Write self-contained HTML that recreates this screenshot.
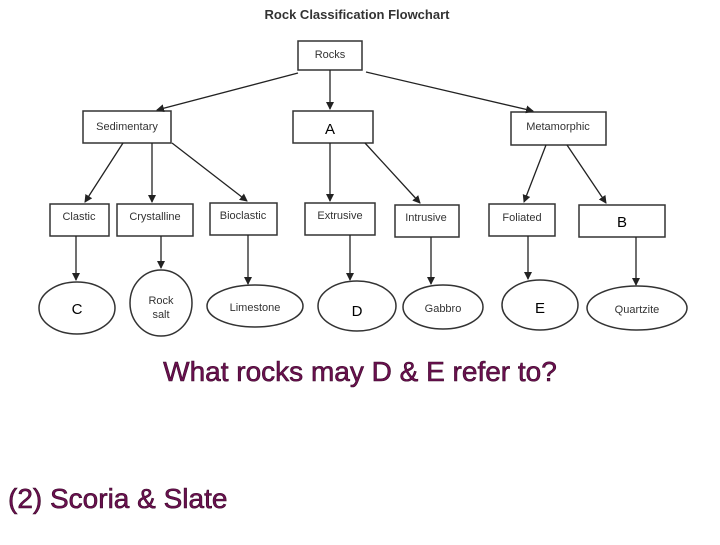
<!DOCTYPE html>
<html><head><style>
body{margin:0;width:720px;height:540px;background:#fff;overflow:hidden}
svg text{font-family:"Liberation Sans",sans-serif}
</style></head><body>
<svg width="720" height="540" viewBox="0 0 720 540" xmlns="http://www.w3.org/2000/svg">
<defs><marker id="a" markerWidth="8" markerHeight="8" refX="7" refY="4" orient="auto" markerUnits="userSpaceOnUse"><path d="M0,0 L8,4 L0,8 z" fill="#222"/></marker></defs>
<text x="357" y="19" font-size="13" font-weight="bold" text-anchor="middle" fill="#333">Rock Classification Flowchart</text>
<g fill="#fff" stroke="#333" stroke-width="1.5">
<rect x="298" y="41" width="64" height="29"/>
<rect x="83" y="111" width="88" height="32"/>
<rect x="293" y="111" width="80" height="32"/>
<rect x="511" y="112" width="95" height="33"/>
<rect x="50" y="204" width="59" height="32"/>
<rect x="117" y="204" width="76" height="32"/>
<rect x="210" y="203" width="67" height="32"/>
<rect x="305" y="203" width="70" height="32"/>
<rect x="395" y="205" width="64" height="32"/>
<rect x="489" y="204" width="66" height="32"/>
<rect x="579" y="205" width="86" height="32"/>
<ellipse cx="77" cy="308" rx="38" ry="26"/>
<ellipse cx="161" cy="303" rx="31" ry="33"/>
<ellipse cx="255" cy="306" rx="48" ry="21"/>
<ellipse cx="357" cy="306" rx="39" ry="25"/>
<ellipse cx="443" cy="307" rx="40" ry="22"/>
<ellipse cx="540" cy="305" rx="38" ry="25"/>
<ellipse cx="637" cy="308" rx="50" ry="22"/>
</g>
<g stroke="#222" stroke-width="1.3" marker-end="url(#a)">
<line x1="298" y1="73" x2="157" y2="110"/>
<line x1="330" y1="70" x2="330" y2="109"/>
<line x1="366" y1="72" x2="533" y2="111"/>
<line x1="123" y1="143" x2="85" y2="202"/>
<line x1="152" y1="143" x2="152" y2="202"/>
<line x1="172" y1="143" x2="247" y2="201"/>
<line x1="330" y1="143" x2="330" y2="201"/>
<line x1="365" y1="143" x2="420" y2="203"/>
<line x1="546" y1="145" x2="524" y2="202"/>
<line x1="567" y1="145" x2="606" y2="203"/>
<line x1="76" y1="236" x2="76" y2="280"/>
<line x1="161" y1="236" x2="161" y2="268"/>
<line x1="248" y1="235" x2="248" y2="284"/>
<line x1="350" y1="235" x2="350" y2="280"/>
<line x1="431" y1="237" x2="431" y2="284"/>
<line x1="528" y1="236" x2="528" y2="279"/>
<line x1="636" y1="237" x2="636" y2="285"/>
</g>
<g font-size="11" text-anchor="middle" fill="#333">
<text x="330" y="58">Rocks</text>
<text x="127" y="130">Sedimentary</text>
<text x="558" y="130">Metamorphic</text>
<text x="79" y="220">Clastic</text>
<text x="155" y="220">Crystalline</text>
<text x="243" y="219">Bioclastic</text>
<text x="340" y="219">Extrusive</text>
<text x="426" y="221">Intrusive</text>
<text x="522" y="221">Foliated</text>
<text x="161" y="304">Rock</text>
<text x="161" y="318">salt</text>
<text x="255" y="311">Limestone</text>
<text x="443" y="312">Gabbro</text>
<text x="637" y="313">Quartzite</text>
</g>
<g font-size="15" text-anchor="middle" fill="#000">
<text x="330" y="134">A</text>
<text x="622" y="227">B</text>
<text x="77" y="314">C</text>
<text x="357" y="316">D</text>
<text x="540" y="313">E</text>
</g>
<g font-size="28" fill="#6b1050" stroke="#3a0828" stroke-width="0.6">
<text x="360" y="381" text-anchor="middle">What rocks may D &amp; E refer to?</text>
<text x="8" y="508">(2) Scoria &amp; Slate</text>
</g>
</svg>
</body></html>
